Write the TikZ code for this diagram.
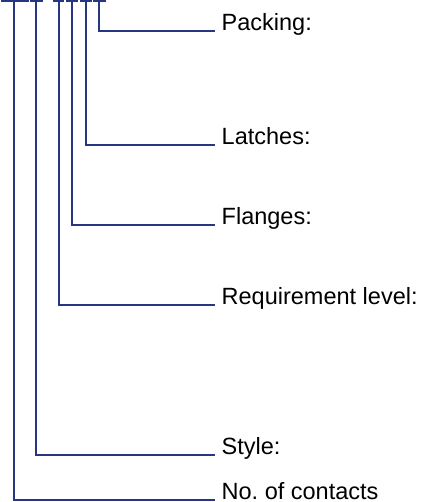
\documentclass[tikz,border=0pt]{standalone}
\usepackage{fontspec}
\setmainfont{Liberation Sans}
\definecolor{lineblue}{RGB}{38,54,130}
\begin{document}
\begin{tikzpicture}[x=1pt,y=-1pt,
  conn/.style={draw=lineblue,line width=2pt,line cap=butt,line join=miter},
  lab/.style={anchor=base west,inner sep=0pt,font=\fontsize{23.5}{28}\selectfont,text=black}]
\useasboundingbox (0,0) rectangle (422,502);
% top bars
\coordinate (b1l) at (1,1.5);  \coordinate (b1r) at (29,1.5);
\coordinate (b2l) at (30,1.5); \coordinate (b2r) at (43,1.5);
\coordinate (b3l) at (53,1.5); \coordinate (b3r) at (64,1.5);
\coordinate (b4l) at (66,1.5); \coordinate (b4r) at (78,1.5);
\coordinate (b5l) at (80,1.5); \coordinate (b5r) at (92,1.5);
\coordinate (b6l) at (93,1.5); \coordinate (b6r) at (106,1.5);
% stems
\coordinate (t1) at (13.7,1.5);
\coordinate (t2) at (35.7,1.5);
\coordinate (t3) at (58.7,1.5);
\coordinate (t4) at (71.7,1.5);
\coordinate (t5) at (85.7,1.5);
\coordinate (t6) at (98.7,1.5);
% line ends
\coordinate (e1) at (215,500);
\coordinate (e2) at (215,454.7);
\coordinate (e3) at (215,305);
\coordinate (e4) at (215,225);
\coordinate (e5) at (215,145);
\coordinate (e6) at (215,30.7);
% labels
\node[lab] (l1) at (221.5,499) {No.\ of contacts};
\node[lab] (l2) at (221.5,454.2) {Style:};
\node[lab] (l3) at (221.5,304.5) {Requirement level:};
\node[lab] (l4) at (221.5,224.5) {Flanges:};
\node[lab] (l5) at (221.5,144.5) {Latches:};
\node[lab] (l6) at (221.5,30.2) {Packing:};
% connectors
\foreach \i in {1,...,6}{
  \draw[conn] (b\i l) -- (b\i r);
  \draw[conn] (t\i) |- (e\i);
}
\end{tikzpicture}
\end{document}
